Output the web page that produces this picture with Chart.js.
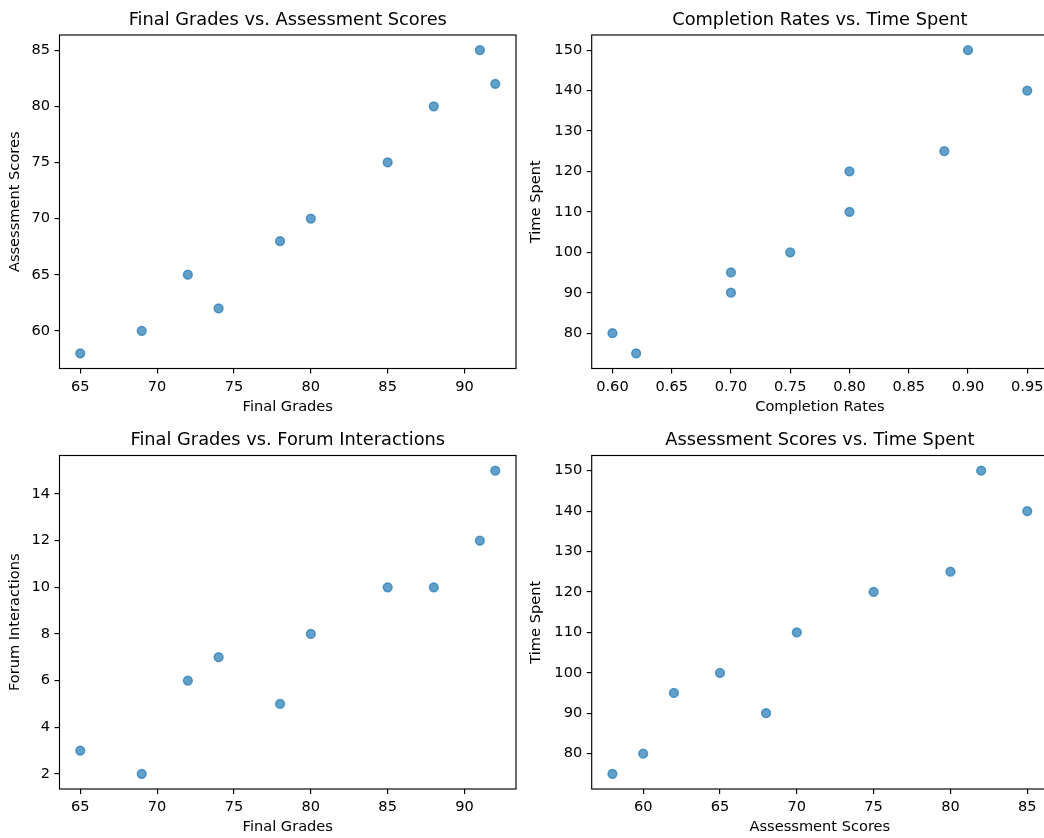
<!DOCTYPE html>
<html>
<head>
<meta http-equiv="content-type" content="text/html; charset=UTF-8">
<script src="https://cdn.jsdelivr.net/npm/chart.js@4.4.0/dist/chart.umd.min.js"></script>
<style>
  html, body { margin: 0; padding: 0; background: #fff; overflow: hidden; }
  #page { position: relative; width: 1044px; height: 838px; overflow: hidden; background: #fff; }
  #page canvas { position: absolute; }
</style>
</head>
<body>
<div id="page">
  <canvas id="grades-assessment"></canvas>
  <canvas id="completion-time"></canvas>
  <canvas id="grades-forum"></canvas>
  <canvas id="assessment-time"></canvas>
</div>
<script>
// one entry per student
var finalGrades       = [65, 69, 72, 74, 78, 80, 85, 88, 91, 92];
var assessmentScores  = [58, 60, 65, 62, 68, 70, 75, 80, 85, 82];
var completionRates   = [0.62, 0.60, 0.75, 0.70, 0.70, 0.80, 0.80, 0.88, 0.95, 0.90];
var timeSpent         = [75, 80, 100, 95, 90, 110, 120, 125, 140, 150];
var forumInteractions = [3, 2, 6, 7, 5, 8, 10, 10, 12, 15];

// tick marks for each axis
var gradeTicks      = [65, 70, 75, 80, 85, 90];
var assessmentTicks = [60, 65, 70, 75, 80, 85];
var completionTicks = [0.60, 0.65, 0.70, 0.75, 0.80, 0.85, 0.90, 0.95];
var timeTicks       = [80, 90, 100, 110, 120, 130, 140, 150];
var forumTicks      = [2, 4, 6, 8, 10, 12, 14];

Chart.defaults.font.family = "'DejaVu Sans', sans-serif";
Chart.defaults.color = '#000';
Chart.defaults.animation = false;

var pointColor = 'rgba(31, 119, 180, 0.7)';
var labelSize = 14.6;
var titleSize = 17.8;

// data range plus 5% on each side
function limits(values) {
  var lo = Math.min.apply(null, values);
  var hi = Math.max.apply(null, values);
  var m = (hi - lo) * 0.05;
  return { min: lo - m, max: hi + m };
}

// closed box around the plot area
var frame = {
  id: 'frame',
  afterDatasetsDraw: function(chart) {
    var a = chart.chartArea, ctx = chart.ctx;
    ctx.save();
    ctx.strokeStyle = '#000';
    ctx.lineWidth = 1.15;
    ctx.strokeRect(a.left, a.top, a.right - a.left, a.bottom - a.top);
    ctx.restore();
  }
};

function axis(values, ticks, decimals, label, titlePad, fit) {
  var r = limits(values);
  return {
    type: 'linear',
    min: r.min,
    max: r.max,
    afterBuildTicks: function(scale) {
      scale.ticks = ticks.map(function(v) { return { value: v }; });
    },
    afterFit: fit,
    ticks: {
      font: { size: labelSize },
      padding: 4.5,
      autoSkip: false,
      maxRotation: 0,
      callback: function(v) { return v.toFixed(decimals); }
    },
    grid: { drawOnChartArea: false, color: '#000', lineWidth: 1.15, tickLength: 5 },
    border: { display: false },
    title: { display: true, text: label, font: { size: labelSize }, padding: titlePad }
  };
}

// box = canvas placement on the page, area = plot area on the page
function panel(p) {
  var box = p.box, area = p.area;
  var canvas = document.getElementById(p.id);
  canvas.width = box.w;
  canvas.height = box.h;
  canvas.style.left = box.x + 'px';
  canvas.style.top = box.y + 'px';

  var halfLabel = labelSize * 0.6;
  var halfTitle = titleSize * 0.6;
  var top = area.t - box.y;
  var titleTop = top - 15 - halfTitle;
  var yTitleTop = p.yTitleX - box.x - halfLabel;
  var xTitleBottom = (box.y + box.h) - (area.b + 38.5) - halfLabel;

  var xScale = axis(p.xs, p.xTicks, p.xDec, p.xLabel, { top: 0, bottom: xTitleBottom }, function(s) {
    s.height = box.y + box.h - area.b;
  });
  var yScale = axis(p.ys, p.yTicks, p.yDec, p.yLabel, { top: yTitleTop, bottom: 0 }, function(s) {
    s.width = area.l - box.x;
  });

  return new Chart(canvas, {
    type: 'scatter',
    data: {
      datasets: [{
        data: p.xs.map(function(x, i) { return { x: x, y: p.ys[i] }; }),
        backgroundColor: pointColor,
        borderColor: pointColor,
        borderWidth: 1.45,
        pointRadius: 4.4,
        pointHoverRadius: 4.4
      }]
    },
    options: {
      responsive: false,
      devicePixelRatio: 1,
      events: [],
      layout: { padding: { left: 0, top: 0, bottom: 0, right: box.x + box.w - area.r } },
      plugins: {
        legend: { display: false },
        tooltip: { enabled: false },
        title: {
          display: true,
          text: p.title,
          fullSize: false,
          color: '#000',
          font: { size: titleSize, weight: 'normal' },
          padding: { top: titleTop, bottom: top - titleTop - 2 * halfTitle }
        }
      },
      scales: { x: xScale, y: yScale }
    },
    plugins: [frame]
  });
}

panel({
  id: 'grades-assessment',
  box: { x: 0, y: 0, w: 522, h: 419 },
  area: { l: 59.5, t: 35, r: 516, b: 368.5 },
  title: 'Final Grades vs. Assessment Scores',
  xLabel: 'Final Grades', yLabel: 'Assessment Scores',
  xs: finalGrades, ys: assessmentScores,
  xTicks: gradeTicks, yTicks: assessmentTicks, xDec: 0, yDec: 0,
  yTitleX: 15.6
});

panel({
  id: 'completion-time',
  box: { x: 522, y: 0, w: 540, h: 419 },
  area: { l: 591.7, t: 35, r: 1048, b: 368.5 },
  title: 'Completion Rates vs. Time Spent',
  xLabel: 'Completion Rates', yLabel: 'Time Spent',
  xs: completionRates, ys: timeSpent,
  xTicks: completionTicks, yTicks: timeTicks, xDec: 2, yDec: 0,
  yTitleX: 536.2
});

panel({
  id: 'grades-forum',
  box: { x: 0, y: 419, w: 522, h: 419 },
  area: { l: 59.5, t: 455.5, r: 516, b: 789 },
  title: 'Final Grades vs. Forum Interactions',
  xLabel: 'Final Grades', yLabel: 'Forum Interactions',
  xs: finalGrades, ys: forumInteractions,
  xTicks: gradeTicks, yTicks: forumTicks, xDec: 0, yDec: 0,
  yTitleX: 15.2
});

panel({
  id: 'assessment-time',
  box: { x: 522, y: 419, w: 540, h: 419 },
  area: { l: 591.7, t: 455.5, r: 1048, b: 789 },
  title: 'Assessment Scores vs. Time Spent',
  xLabel: 'Assessment Scores', yLabel: 'Time Spent',
  xs: assessmentScores, ys: timeSpent,
  xTicks: assessmentTicks, yTicks: timeTicks, xDec: 0, yDec: 0,
  yTitleX: 536.2
});
</script>
</body>
</html>
